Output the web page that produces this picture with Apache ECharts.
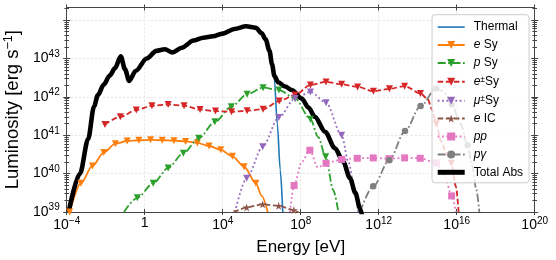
<!DOCTYPE html>
<html><head><meta charset="utf-8">
<script src="https://cdn.jsdelivr.net/npm/echarts@6/dist/echarts.min.js"></script>
<style>html,body{margin:0;padding:0;background:#fff}#c{width:556px;height:260px}</style>
</head><body><div id="c"></div>
<script>
// axis extents (log10 units) and tick labels
const xMin = -4, xMax = 20;
const yMin = 39, yMax = 44.33;
const xTicks = [-4, 0, 4, 8, 12, 16, 20];
const yTicks = [39, 40, 41, 42, 43, 44];
const seriesNames = ['Thermal', 'e Sy', 'p Sy', 'e±Sy', 'μ±Sy', 'e IC', 'pp', 'pγ', 'Total Abs'];

// data: [log10(E/eV), log10(L / erg s^-1)]
const thermal = [[-3.9,39.0],[-3.32,40.0],[-2.9,40.9],[-2.6,41.75],[-2.4,42.05],[-2.1,42.32],[-1.8,42.55],[-1.52,42.75],[-1.23,43.06],[-1.01,42.7],[-0.8,42.37],[-0.45,42.66],[0.1,43.0],[0.6,43.2],[1.04,43.24],[1.42,43.16],[1.9,43.28],[2.5,43.47],[3.0,43.54],[3.5,43.58],[4.0,43.65],[4.6,43.77],[5.2,43.84],[5.7,43.8],[6.0,43.66],[6.2,43.5],[6.4,43.2],[6.55,42.75],[6.65,42.45],[6.8,41.3],[6.95,40.1],[7.08,39.0]];
const thermalMarks = [];
const eSy = [[-3.85,39.0],[-3.27,39.75],[-2.68,40.2],[-2.1,40.55],[-1.5,40.78],[-0.9,40.85],[-0.3,40.87],[0.3,40.88],[0.9,40.87],[1.5,40.86],[2.1,40.84],[2.7,40.8],[3.3,40.72],[3.9,40.62],[4.5,40.45],[5.1,40.18],[5.7,39.75],[6.0,39.42],[6.31,39.0]];
const eSyMarks = [0,1,2,3,4,5,6,7,8,9,10,11,12,13,14,15,16];
const pSy = [[-1.06,39.0],[-0.38,39.37],[0.44,39.75],[1.2,40.15],[1.98,40.53],[2.77,40.92],[3.6,41.35],[4.44,41.74],[5.25,42.07],[6.07,42.24],[6.88,42.18],[7.71,41.96],[8.5,41.42],[8.9,40.95],[9.28,40.44],[9.67,39.57],[9.93,39.0]];
const pSyMarks = [1,2,3,4,5,6,7,8,9,10,11,12,14];
const epmSy = [[-2.04,41.28],[-1.25,41.48],[-0.43,41.66],[0.37,41.77],[1.2,41.8],[2.02,41.77],[2.84,41.67],[3.63,41.63],[4.45,41.61],[5.25,41.64],[6.07,41.68],[6.9,41.89],[7.71,42.05],[8.5,42.31],[9.3,42.39],[10.1,42.33],[10.92,42.26],[11.73,42.15],[12.55,42.21],[13.33,42.28],[14.14,42.09],[14.5,41.95],[14.75,41.66],[14.95,41.3],[15.2,40.85],[15.45,40.55],[15.73,40.27],[15.96,39.66],[16.1,39.0]];
const epmSyMarks = [0,1,2,3,4,5,6,7,8,9,10,11,12,13,14,15,16,17,18,19,20,23,26];
const mupmSy = [[4.63,39.0],[5.23,39.88],[6.05,40.7],[6.87,41.46],[7.71,41.96],[8.5,42.13],[9.3,41.85],[10.1,41.0],[10.45,40.3],[10.78,39.55],[10.95,39.0]];
const mupmSyMarks = [1,2,3,4,5,6,7];
const eIC = [[4.2,38.9],[4.6,39.02],[5.23,39.12],[6.05,39.2],[6.87,39.16],[7.65,39.05],[7.96,38.95]];
const eICMarks = [2,3,4,5];
const pp = [[7.45,39.0],[7.66,39.69],[8.05,40.3],[8.47,40.61],[8.88,40.16],[9.3,40.27],[10.1,40.37],[10.9,40.4],[11.72,40.41],[12.53,40.39],[13.33,40.41],[14.13,40.4],[14.95,40.28],[15.4,39.92],[15.74,39.42],[15.96,39.0]];
const ppMarks = [1,3,5,6,7,8,9,10,11,12,14];
const pgamma = [[11.04,39.0],[11.72,39.67],[12.54,40.35],[13.35,41.11],[14.15,41.76],[14.94,42.22],[15.3,42.15],[15.75,41.8],[16.2,41.3],[16.56,40.74],[16.8,40.2],[17.0,39.6],[17.16,39.0]];
const pgammaMarks = [1,2,3,4,5,7,9];
const totalAbs = [[-3.9,39.0],[-3.32,40.0],[-2.9,40.9],[-2.6,41.75],[-2.4,42.05],[-2.1,42.32],[-1.8,42.55],[-1.52,42.75],[-1.23,43.06],[-1.01,42.72],[-0.8,42.42],[-0.45,42.68],[0.1,43.0],[0.6,43.2],[1.04,43.24],[1.42,43.16],[1.9,43.28],[2.5,43.47],[3.0,43.54],[3.5,43.58],[4.0,43.65],[4.6,43.77],[5.2,43.84],[5.7,43.8],[6.0,43.66],[6.2,43.5],[6.4,43.2],[6.53,42.85],[6.65,42.55],[6.85,42.38],[7.2,42.27],[7.54,42.18],[8.05,41.96],[8.4,41.72],[8.73,41.48],[9.25,41.09],[9.76,40.66],[10.18,40.31],[10.53,39.88],[10.8,39.5],[11.05,39.08],[11.15,38.9]];
const totalAbsMarks = [];

const FONT = 'Liberation Sans';
const AXC = '#444';
const minorTicks = [];
for (let n = yMin; n <= 44; n++) for (let k = 2; k <= 9; k++) { const v = n + Math.log10(k); if (v < yMax) minorTicks.push(+v.toFixed(4)); }

function supLabel(v) {
  if (Math.abs(v) < 1e-9) return '{b|1}';
  return '{b|10}{s|' + (v < 0 ? '\u2212' + (-v) : v) + '}';
}
const tickRich = {
  b: {fontSize: 14, fontFamily: FONT, color: '#000'},
  s: {fontSize: 10, fontFamily: FONT, color: '#000', padding: [0, 0, 9, 0]}
};
function xa(extra) {
  return Object.assign({type: 'value', min: xMin, max: xMax, interval: 4,
    axisLine: {show: false, onZero: false}, axisTick: {show: false}, axisLabel: {show: false}, splitLine: {show: false}}, extra);
}
function ya(extra) {
  return Object.assign({type: 'value', min: yMin, max: yMax, interval: 1,
    axisLine: {show: false, onZero: false}, axisTick: {show: false}, axisLabel: {show: false}, splitLine: {show: false}}, extra);
}
const frame = {show: true, onZero: false, lineStyle: {color: AXC, width: 1}};
const gridLine = {show: true, lineStyle: {color: '#dedede', width: 0.8, type: [2, 2]}};

const triDown = 'path://M0,0L10,0L5,9Z';
const star = 'path://M5,0L6.18,3.62L10,3.62L6.91,5.86L8.09,9.48L5,7.24L1.91,9.48L3.09,5.86L0,3.62L3.82,3.62Z';

function mk(name, pts, marks, color, type, width, symbol, size) {
  return {
    name, type: 'line', xAxisIndex: 0, yAxisIndex: 0,
    data: pts.map((p, i) => marks.indexOf(i) >= 0 ? {value: p} : {value: p, symbol: 'none'}),
    symbol, symbolSize: size || 7, showSymbol: true,
    smooth: 0.3, smoothMonotone: 'x', clip: true, silent: true,
    color: color,
    lineStyle: {color, width, type},
    itemStyle: {color},
    emphasis: {disabled: true}
  };
}

const legendRich = {
  n: {fontSize: 12, fontFamily: FONT, color: '#000', lineHeight: 14},
  i: {fontSize: 12, fontFamily: FONT, color: '#000', fontStyle: 'italic', lineHeight: 14},
  u: {fontSize: 8.5, fontFamily: FONT, color: '#000', lineHeight: 8, verticalAlign: 'top'}
};
const legendText = {
  'Thermal': '{n|Thermal}', 'e Sy': '{i|e}{n| Sy}', 'p Sy': '{i|p}{n| Sy}',
  'e±Sy': '{i|e}{u|±}{n|Sy}', 'μ±Sy': '{i|μ}{u|±}{n|Sy}', 'e IC': '{i|e}{n| IC}',
  'pp': '{i|pp}', 'pγ': '{i|pγ}', 'Total Abs': '{n|Total Abs}'
};

const chart = echarts.init(document.getElementById('c'), null, {renderer: 'canvas', width: 556, height: 260, devicePixelRatio: 1});
chart.setOption({
  animation: false,
  backgroundColor: '#fff',
  textStyle: {fontFamily: FONT},
  grid: {left: 66.7, right: 21.3, top: 7.5, bottom: 48, containLabel: false, outerBoundsMode: 'none'},
  legend: {
    orient: 'vertical', left: 432, top: 14.7,
    itemWidth: 27, itemHeight: 10, itemGap: 5.9,
    padding: [6.4, 6, 4.5, 4.7],
    backgroundColor: 'rgba(255,255,255,0.8)', borderColor: '#cccccc', borderWidth: 1, borderRadius: 3,
    selectedMode: false,
    data: seriesNames.map(n => n === 'Thermal' ? {name: n, icon: 'path://M0,0H27V1.6H0Z'} :
      (n === 'Total Abs' ? {name: n, icon: 'path://M0,0H27V5H0Z'} : {name: n})),
    formatter: n => legendText[n],
    textStyle: {fontSize: 12, fontFamily: FONT, color: '#000', padding: [0, 0, 0, 4], rich: legendRich}
  },
  xAxis: [
    xa({position: 'bottom', axisLine: frame,
      axisLabel: {show: true, margin: 4, formatter: supLabel, rich: tickRich, customValues: xTicks},
      splitLine: gridLine,
      name: 'Energy [eV]', nameLocation: 'middle', nameGap: 27,
      nameTextStyle: {fontSize: 17, fontFamily: FONT, color: '#000'}}),
    xa({position: 'bottom', offset: -3, axisTick: {show: true, length: 6, lineStyle: {color: AXC}, customValues: xTicks}}),
    xa({position: 'top', axisLine: frame}),
    xa({position: 'top', offset: -3, axisTick: {show: true, length: 6, lineStyle: {color: AXC}, customValues: xTicks}})
  ],
  yAxis: [
    ya({position: 'left', axisLine: frame,
      axisLabel: {show: true, margin: 7, formatter: supLabel, rich: tickRich, customValues: yTicks, showMaxLabel: false},
      splitLine: gridLine,
      name: '{a|Luminosity [erg s}{s|\u22121}{a|]}', nameLocation: 'middle', nameGap: 40, nameRotate: 90,
      nameTextStyle: {fontSize: 18.5, fontFamily: FONT, color: '#000',
        rich: {a: {fontSize: 18.5, fontFamily: FONT, color: '#000'}, s: {fontSize: 12.5, fontFamily: FONT, color: '#000', padding: [0, 0, 9, 0]}}}}),
    ya({position: 'left', offset: -3.5, axisTick: {show: true, length: 7, lineStyle: {color: AXC}, customValues: yTicks}}),
    ya({position: 'left', offset: -2.3, axisTick: {show: true, length: 4.6, lineStyle: {color: AXC}, customValues: minorTicks}}),
    ya({position: 'right', axisLine: frame}),
    ya({position: 'right', offset: -3.5, axisTick: {show: true, length: 7, lineStyle: {color: AXC}, customValues: yTicks}}),
    ya({position: 'right', offset: -2.3, axisTick: {show: true, length: 4.6, lineStyle: {color: AXC}, customValues: minorTicks}})
  ],
  series: [
    mk('Thermal', thermal, thermalMarks, '#1f77b4', 'solid', 1.6, 'none'),
    mk('e Sy', eSy, eSyMarks, '#ff7f0e', 'solid', 1.8, triDown),
    mk('p Sy', pSy, pSyMarks, '#2ca02c', [8, 2.5, 1.8, 2.5], 1.8, triDown),
    mk('e±Sy', epmSy, epmSyMarks, '#d62728', [5.5, 2.6], 1.8, triDown),
    mk('μ±Sy', mupmSy, mupmSyMarks, '#9467bd', [1.8, 2.6], 1.8, triDown),
    mk('e IC', eIC, eICMarks, '#8c564b', [5.5, 2.6], 1.8, star, 8),
    mk('pp', pp, ppMarks, '#e377c2', [1.8, 2.6], 1.8, 'rect', 7),
    mk('pγ', pgamma, pgammaMarks, '#7f7f7f', [8, 2.5, 1.8, 2.5], 1.8, 'circle', 6.5),
    mk('Total Abs', totalAbs, totalAbsMarks, '#000000', 'solid', 4.6, 'none')
  ]
});
</script>
</body></html>
